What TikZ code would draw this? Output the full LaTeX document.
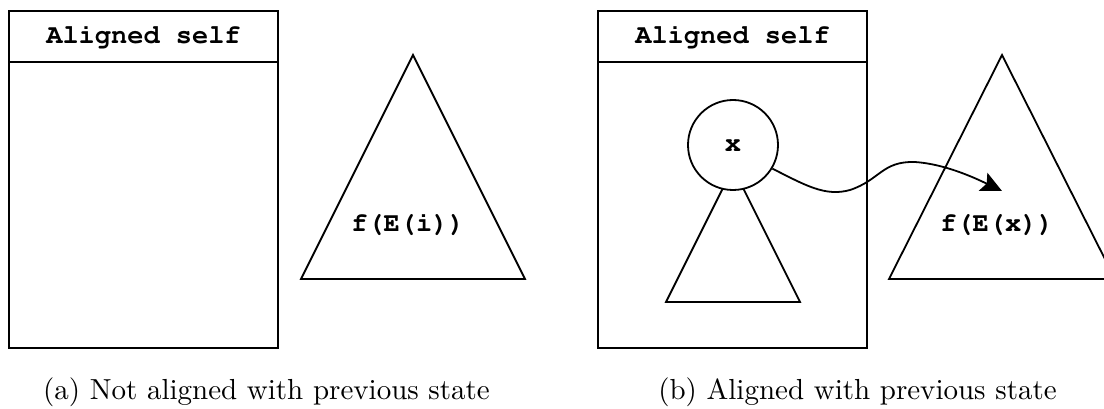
\documentclass[tikz,border=0pt]{standalone}
\usetikzlibrary{arrows.meta, positioning, calc}
\newcommand{\codefont}{\fontencoding{T1}\fontfamily{pcr}\fontseries{b}\selectfont}

\begin{document}
\begin{tikzpicture}[
        x=1pt, y=-1pt,
        line width=1.8pt,
        panel/.style={
            rectangle,
            draw=black,
            minimum width=269pt,
            minimum height=337pt,
            inner sep=0pt
        },
        cabecera/.style={
            rectangle,
            draw=black,
            minimum width=269pt,
            minimum height=51pt,
            inner sep=0pt,
            font=\codefont\fontsize{27}{32}\selectfont
        },
        etiqueta/.style={
            inner sep=0pt,
            font=\codefont\fontsize{27}{32}\selectfont
        },
        leyenda/.style={
            inner sep=0pt,
            anchor=base,
            scale=2.9, transform shape,
            font=\fontsize{10}{12}\selectfont
        },
        flecha/.style={-{Stealth[length=21pt, width=20pt, inset=4pt]}, line width=1.8pt}
    ]
        \useasboundingbox (0,0) rectangle (1104,409);
        \clip (0,0) rectangle (1104,409);

        % (a) no alineado
        \node[panel] (selfA) at (143.5,179.5) {};
        \node[cabecera, anchor=north] (cabA) at (selfA.north) {Aligned self};

        \coordinate (cimaA) at (413,55);
        \draw (cimaA) -- ++(-112,224) -- ++(224,0) -- cycle;
        \node[etiqueta] (fA) at (408,224) {f(E(i))};

        \node[leyenda] (leyA) at (266.5,399) {(a) Not aligned with previous state};

        % (b) alineado
        \node[panel] (selfB) at (732.5,179.5) {};
        \node[cabecera, anchor=north] (cabB) at (selfB.north) {Aligned self};

        \coordinate (cimaX) at (733,168);
        \draw (cimaX) -- ++(-67,134) -- ++(134,0) -- cycle;
        \node[circle, draw=black, fill=white, minimum size=90pt, inner sep=0pt, etiqueta] (x) at (733,145) {x};

        \coordinate (cimaB) at (1002,55);
        \draw (cimaB) -- ++(-113,224) -- ++(226,0) -- cycle;
        \node[etiqueta] (fB) at (997,224) {f(E(x))};

        \coordinate (punta) at (1002,191);
        \draw[flecha] (x.-31) .. controls (805,185) and (825,197) .. (850,190)
            .. controls (880,180) and (882,161) .. (915,162)
            .. controls (945,164) and (975,178) .. (punta);

        \node[leyenda] (leyB) at (857.5,399) {(b) Aligned with previous state};
\end{tikzpicture}
\end{document}
